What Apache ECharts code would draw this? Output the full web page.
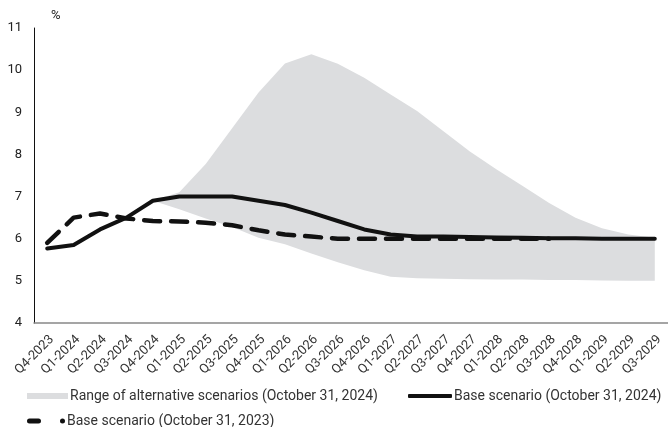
<!DOCTYPE html>
<html>
<head>
<meta charset="utf-8">
<script src="https://cdn.jsdelivr.net/npm/echarts@6/dist/echarts.min.js"></script>
<style>
  html, body { margin: 0; padding: 0; background: #fff; }
  #main { width: 668px; height: 427px; }
</style>
</head>
<body>
<div id="main"></div>
<script>
const quarters = ['Q4-2023','Q1-2024','Q2-2024','Q3-2024','Q4-2024','Q1-2025','Q2-2025','Q3-2025',
  'Q4-2025','Q1-2026','Q2-2026','Q3-2026','Q4-2026','Q1-2027','Q2-2027','Q3-2027',
  'Q4-2027','Q1-2028','Q2-2028','Q3-2028','Q4-2028','Q1-2029','Q2-2029','Q3-2029']

// range of alternative scenarios (Oct 31, 2024): low and high bounds
const rangeLow = [null,null,null,null,6.9,6.7,6.48,6.28,6.02,5.87,5.65,5.44,5.25,5.1,5.06,5.05,
  5.04,5.03,5.03,5.02,5.02,5.01,5.0,5.0]
const rangeHigh = [null,null,null,null,6.9,7.1,7.77,8.62,9.47,10.16,10.38,10.15,9.82,9.42,9.03,8.55,
  8.07,7.65,7.25,6.85,6.5,6.25,6.1,6.02]

const base2024 = [5.77,5.85,6.22,6.5,6.9,7.0,7.0,7.0,6.9,6.8,6.62,6.42,6.22,6.1,6.05,6.05,
  6.04,6.03,6.02,6.01,6.01,6.0,6.0,6.0]
const base2023 = [5.9,6.5,6.6,6.48,6.42,6.41,6.38,6.32,6.2,6.1,6.05,6.0,6.0,6.0,6.0,6.0,
  6.0,6.0,6.0,6.0,null,null,null,null]

const rangeName = 'Range of alternative scenarios (October 31, 2024)'
const base2024Name = 'Base scenario (October 31, 2024)'
const base2023Name = 'Base scenario (October 31, 2023)'

const font = 'Roboto'
const bandColor = '#dcdddf'
const chart = echarts.init(document.getElementById('main'))

const rangeDiff = rangeHigh.map((v, i) => (v == null ? null : +(v - rangeLow[i]).toFixed(2)))

const legendText = { fontFamily: font, fontSize: 14, color: '#333', padding: [0,0,0,-3] }

const option = {
  animation: false,
  backgroundColor: '#fff',
  textStyle: { fontFamily: font },
  grid: { left: 34, right: -4, top: 28, bottom: 104 },
  legend: [
    {
      left: 27, top: 389, padding: 0,
      itemWidth: 41, itemHeight: 6,
      textStyle: legendText,
      data: [ { name: rangeName, icon: 'rect', itemStyle: { color: bandColor } } ]
    },
    {
      left: 408, top: 389, padding: 0,
      itemWidth: 44, itemHeight: 4,
      textStyle: legendText,
      data: [ { name: base2024Name, icon: 'roundRect', itemStyle: { color: '#111' } } ]
    },
    {
      left: 27, top: 414, padding: 0,
      itemWidth: 38, itemHeight: 5,
      textStyle: legendText,
      data: [ {
        name: base2023Name,
        icon: 'path://M2.5,0 H11.5 A2.5,2.5 0 0 1 11.5,5 H2.5 A2.5,2.5 0 0 1 2.5,0 Z M35.5,0 A2.5,2.5 0 0 1 35.5,5 A2.5,2.5 0 0 1 35.5,0 Z',
        itemStyle: { color: '#111' }
      } ]
    }
  ],
  xAxis: {
    type: 'category',
    data: quarters,
    boundaryGap: true,
    axisLine: { lineStyle: { color: '#888', width: 1.5 } },
    axisTick: { show: false },
    axisLabel: { rotate: 45, fontSize: 13, color: '#333', margin: 10, interval: 0, verticalAlign: 'top' }
  },
  yAxis: {
    type: 'value',
    min: 4, max: 11, interval: 1,
    name: '%',
    nameLocation: 'end',
    nameGap: 6,
    nameTextStyle: { fontSize: 13, color: '#222', align: 'left', padding: [0,0,0,17] },
    splitLine: { show: false },
    axisLine: { show: true, lineStyle: { color: '#111', width: 1 } },
    axisTick: { show: false },
    axisLabel: { fontSize: 13, color: '#222', margin: 12 }
  },
  series: [
    {
      name: 'rangeLow',
      type: 'line',
      stack: 'range',
      data: rangeLow,
      symbol: 'none',
      lineStyle: { opacity: 0 },
      silent: true
    },
    {
      name: rangeName,
      type: 'line',
      stack: 'range',
      data: rangeDiff,
      symbol: 'none',
      lineStyle: { opacity: 0 },
      itemStyle: { color: bandColor },
      areaStyle: { color: bandColor, opacity: 1 }
    },
    {
      name: base2023Name,
      type: 'line',
      data: base2023,
      symbol: 'none',
      z: 3,
      itemStyle: { color: '#111' },
      lineStyle: { color: '#111', width: 4.5, type: [16, 11], cap: 'round' }
    },
    {
      name: base2024Name,
      type: 'line',
      data: base2024,
      symbol: 'none',
      z: 4,
      itemStyle: { color: '#111' },
      lineStyle: { color: '#111', width: 4, cap: 'round', join: 'round' }
    }
  ]
}

chart.setOption(option)
</script>
</body>
</html>
